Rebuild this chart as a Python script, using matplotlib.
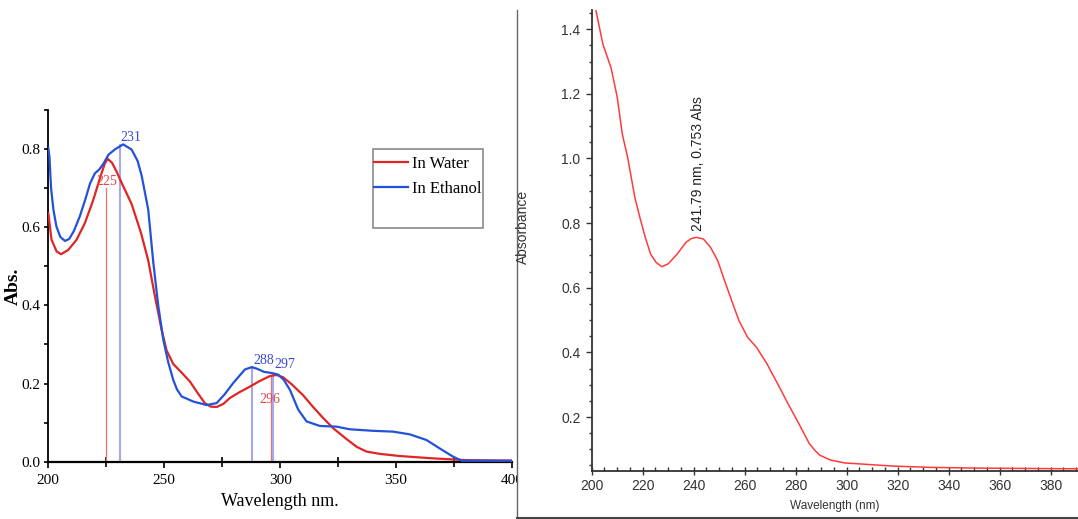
import matplotlib.pyplot as plt
from matplotlib.ticker import MultipleLocator, FuncFormatter
from matplotlib.patches import Rectangle
from matplotlib.lines import Line2D

# left panel: spectra in water and ethanol
wl_water = [200, 201.4, 203.6, 205.5, 208.6, 212.2, 215.8, 219.4, 222.5, 224.3, 225.6, 227.5,
            229.5, 231.6, 235.9, 240, 243.1, 246, 248.9, 251, 253.9, 257.5, 261.1, 264.5,
            267.5, 270, 272.6, 275.5, 278.3, 282.5, 286.9, 291, 295.5, 298.4, 301.3, 305,
            309.9, 314.2, 318.5, 323, 328.6, 333, 337.2, 343, 351.6, 366, 380.3, 400]
abs_water = [0.636, 0.568, 0.538, 0.531, 0.542, 0.568, 0.611, 0.670, 0.730, 0.762, 0.775, 0.765,
             0.742, 0.714, 0.66, 0.585, 0.515, 0.423, 0.337, 0.285, 0.250, 0.228, 0.205, 0.175,
             0.150, 0.141, 0.140, 0.148, 0.163, 0.178, 0.192, 0.206, 0.219, 0.222, 0.216, 0.198,
             0.170, 0.140, 0.112, 0.085, 0.058, 0.038, 0.026, 0.020, 0.0145, 0.0085, 0.004, 0.0026]

wl_ethanol = [200, 200.5, 201.2, 202.2, 203.5, 205.2, 207.2, 209, 211, 213.6, 216, 218, 220.1, 222,
              223.7, 226, 228.9, 232.3, 235.9, 238.5, 240.3, 243.1, 245.3, 247.4, 249.6, 251.7,
              253.9, 255.5, 257.5, 262.5, 268.3, 272.6, 276, 279.7, 284.8, 287.7, 290, 293,
              296.3, 299.1, 301.5, 304.2, 307.8, 311.4, 317.1, 324.3, 330, 340.1, 348.7,
              355.9, 363.1, 368.8, 374.6, 378.2, 400]
abs_ethanol = [0.803, 0.78, 0.70, 0.645, 0.602, 0.575, 0.565, 0.570, 0.590, 0.628, 0.672, 0.712,
               0.738, 0.748, 0.762, 0.786, 0.800, 0.812, 0.799, 0.77, 0.731, 0.645, 0.509, 0.400,
               0.312, 0.255, 0.209, 0.185, 0.167, 0.154, 0.145, 0.150, 0.172, 0.201, 0.236,
               0.242, 0.238, 0.230, 0.227, 0.223, 0.210, 0.184, 0.133, 0.103, 0.0915, 0.0897,
               0.083, 0.079, 0.077, 0.070, 0.0555, 0.034, 0.0128, 0.0026, 0.0026]

peaks_water = [225, 296]
peaks_water_top = [0.70, 0.222]
peaks_ethanol = [231, 288, 297]
peaks_ethanol_top = [0.810, 0.242, 0.225]

# right panel: single spectrum
wl_sample = [200.5, 201.7, 204.4, 207.6, 210, 212, 214.1, 216.9, 218.9, 221, 223.1, 225.2, 227.5,
             230, 233.5, 236.9, 239, 241, 243.8, 246.6, 249.4, 252.1, 254.9, 257.7, 261.1, 264.6,
             268.7, 272.9, 277, 281.2, 285.3, 287.5, 289.4, 293.6, 299.1, 308.8, 318.5, 333.7,
             350.3, 386.2, 392]
abs_sample = [1.50, 1.456, 1.353, 1.28, 1.19, 1.075, 1.003, 0.88, 0.817, 0.756, 0.704, 0.679, 0.665,
              0.674, 0.704, 0.74, 0.752, 0.756, 0.751, 0.725, 0.684, 0.622, 0.56, 0.499, 0.447,
              0.416, 0.365, 0.303, 0.241, 0.18, 0.118, 0.097, 0.082, 0.067, 0.058, 0.053, 0.048,
              0.044, 0.042, 0.040, 0.040]

serif = 'Liberation Serif'
sans = 'Liberation Sans'

fig = plt.figure(figsize=(10.78, 5.19), dpi=100)

# ---------- left ----------
ax1 = fig.add_axes([0.0448, 0.1104, 0.4302, 0.6776])
ax1.set_zorder(0)
ax1.plot(wl_water, abs_water, color='#e02525', lw=1.6, label='In Water', zorder=3)
ax1.plot(wl_ethanol, abs_ethanol, color='#2352d8', lw=1.6, label='In Ethanol', zorder=3)

for p, t in zip(peaks_water, peaks_water_top):
    ax1.plot([p, p], [0, t], color='#ee7070', lw=0.9, zorder=2)
for p, t in zip(peaks_ethanol, peaks_ethanol_top):
    ax1.plot([p, p], [0, t], color='#a8a8ee', lw=1.5, zorder=2)

ax1.text(225.4, 0.717, '225', color='#e04a4a', fontsize=10, family=serif, ha='center', va='center', zorder=4)
ax1.text(231.3, 0.83, '231', color='#3a4ad8', fontsize=10, family=serif, ha='left', va='center', zorder=4)
ax1.text(288.4, 0.26, '288', color='#3a4ad8', fontsize=10, family=serif, ha='left', va='center', zorder=4)
ax1.text(297.3, 0.248, '297', color='#3a4ad8', fontsize=10, family=serif, ha='left', va='center', zorder=4)
ax1.text(295.6, 0.16, '296', color='#e04a4a', fontsize=10, family=serif, ha='center', va='center', zorder=4)

ax1.set_xlim(200, 400)
ax1.set_ylim(0, 0.9)
ax1.spines['top'].set_visible(False)
ax1.spines['right'].set_visible(False)
ax1.spines['left'].set_linewidth(1.3)
ax1.spines['bottom'].set_linewidth(1.6)
ax1.xaxis.set_major_locator(MultipleLocator(50))
ax1.xaxis.set_minor_locator(MultipleLocator(25))
ax1.yaxis.set_major_locator(MultipleLocator(0.2))
ax1.yaxis.set_minor_locator(MultipleLocator(0.1))
ax1.xaxis.set_major_formatter(FuncFormatter(lambda v, pos: f'{v:.0f}'))
ax1.yaxis.set_major_formatter(FuncFormatter(lambda v, pos: f'{v:.1f}'))
ax1.tick_params(axis='x', which='major', direction='out', length=4, width=1.2, pad=5)
ax1.tick_params(axis='x', which='minor', direction='inout', length=7, width=1.2)
ax1.tick_params(axis='y', which='both', direction='out', length=3, width=1.2, pad=3)
ax1.tick_params(axis='both', which='major', labelsize=11, labelfontfamily=serif)
ax1.set_xlabel('Wavelength nm.', family=serif, fontsize=13, labelpad=4)
ax1.set_ylabel('Abs.', family=serif, fontsize=14, fontweight='bold')
ax1.yaxis.set_label_coords(-0.057, 0.5)

# legend with a tall frame
ax1.add_patch(Rectangle((0.70, 0.664), 0.237, 0.225, transform=ax1.transAxes,
                        facecolor='white', edgecolor='#8a8a8a', lw=1.2, zorder=5))
leg = ax1.legend(loc='upper left', bbox_to_anchor=(0.696, 0.879), frameon=False,
                 prop={'family': serif, 'size': 12}, handlelength=2.0, handletextpad=0.25,
                 labelspacing=0.55, borderpad=0.2, borderaxespad=0)
leg.set_zorder(6)

# ---------- cover / border of the right picture ----------
fig.add_artist(Rectangle((516.5 / 1078, 1 - 518 / 519), 0.6, (518 - 10) / 519,
                         transform=fig.transFigure, facecolor='white',
                         edgecolor='none', zorder=1))
fig.add_artist(Line2D([516.5 / 1078, 516.5 / 1078], [1 - 518 / 519, 1 - 10 / 519],
                      transform=fig.transFigure, color='#666666', lw=1.0, zorder=1.5))
fig.add_artist(Line2D([516.5 / 1078, 1], [1 - 518 / 519, 1 - 518 / 519],
                      transform=fig.transFigure, color='#444444', lw=1.5, zorder=1.5))

# ---------- right ----------
ax2 = fig.add_axes([0.5489, 0.0925, 0.4511, 0.888])
ax2.set_zorder(2)
ax2.plot(wl_sample, abs_sample, color='#ff3b3b', lw=1.1)
ax2.text(241.6, 0.775, '241.79 nm, 0.753 Abs', rotation=90, ha='center', va='bottom',
         fontsize=10, family=sans, color='#222222')
ax2.set_xlim(200, 390.7)
ax2.set_ylim(0.033, 1.459)
ax2.spines['top'].set_visible(False)
ax2.spines['right'].set_visible(False)
for s in ['left', 'bottom']:
    ax2.spines[s].set_color('#333333')
    ax2.spines[s].set_linewidth(1.3)
ax2.xaxis.set_major_locator(MultipleLocator(20))
ax2.xaxis.set_minor_locator(MultipleLocator(5))
ax2.yaxis.set_major_locator(MultipleLocator(0.2))
ax2.yaxis.set_minor_locator(MultipleLocator(0.05))
ax2.yaxis.set_major_formatter(FuncFormatter(lambda v, pos: f'{v:.1f}'))
ax2.tick_params(axis='x', which='major', direction='inout', length=6, width=1, color='#333333', pad=3)
ax2.tick_params(axis='x', which='minor', direction='in', length=3, width=1, color='#333333')
ax2.tick_params(axis='y', which='major', direction='out', length=4, width=1, color='#333333', pad=4)
ax2.tick_params(axis='y', which='minor', direction='out', length=2, width=1, color='#333333')
ax2.tick_params(axis='both', which='major', labelsize=10, labelcolor='#333333', labelfontfamily=sans)
ax2.set_xlabel('Wavelength (nm)', family=sans, fontsize=8.5, color='#333333', labelpad=5)
ax2.set_ylabel('Absorbance', family=sans, fontsize=10, color='#333333')
ax2.yaxis.set_label_coords(-0.128, 0.53)

fig.savefig('out.png', dpi=100)
